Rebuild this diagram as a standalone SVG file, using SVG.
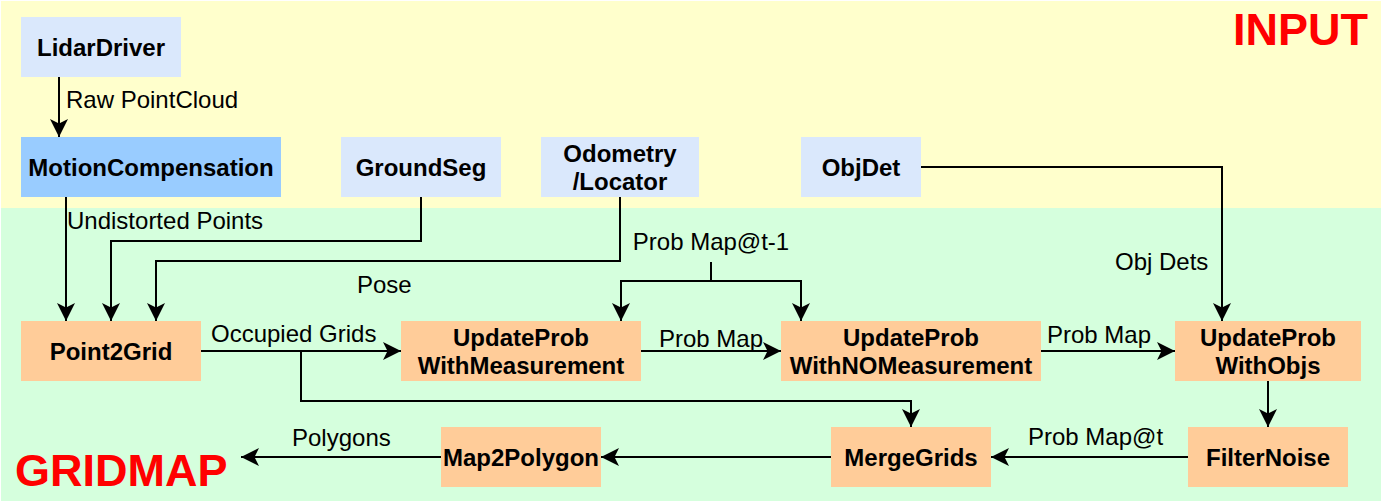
<svg xmlns="http://www.w3.org/2000/svg" width="1382" height="504" viewBox="0 0 1382 504">
<style>
.bg-in{fill:#FFFFCC}
.bg-gm{fill:#D5FFDD}
.src{fill:#DAE8FC}
.mc{fill:#99CCFF}
.proc{fill:#FFCC99}
.nt{font-family:"Liberation Sans",Arial,sans-serif;font-size:24px;font-weight:bold;fill:#000;text-anchor:middle}
.el{font-family:"Liberation Sans",Arial,sans-serif;font-size:24px;fill:#000}
.title{font-family:"Liberation Sans",Arial,sans-serif;font-size:45px;font-weight:bold;fill:#FF0000}
.edge{fill:none;stroke:#000;stroke-width:2;marker-end:url(#arr)}
.plain{fill:none;stroke:#000;stroke-width:2}
</style>
<defs>
<marker id="arr" viewBox="0 -10 19 20" markerUnits="userSpaceOnUse" markerWidth="19" markerHeight="20" refX="18" refY="0" orient="auto">
<path d="M0,-9 L18,0 L0,9 L4.5,0 Z" fill="#000"/>
</marker>
</defs>
<g id="backgrounds">
<rect class="bg-in" x="1" y="1" width="1380" height="207"/>
<rect class="bg-gm" x="1" y="208" width="1380" height="293"/>
<text class="title" x="1233" y="45">INPUT</text>
<text class="title" x="15" y="486">GRIDMAP</text>
</g>
<g id="connectors">
<path class="edge" d="M59,77 V137"/>
<text class="el" x="66" y="108">Raw PointCloud</text>
<path class="edge" d="M66,197 V321"/>
<text class="el" x="67" y="229">Undistorted Points</text>
<path class="edge" d="M421,197 V241 H111 V321"/>
<path class="edge" d="M620,197 V261 H156 V321"/>
<text class="el" x="357" y="293">Pose</text>
<text class="el" x="711" y="250" text-anchor="middle">Prob Map@t-1</text>
<path class="plain" d="M711,262 V281"/>
<path class="edge" d="M711,281 H621 V321"/>
<path class="edge" d="M711,281 H801 V321"/>
<path class="edge" d="M201,351 H401"/>
<text class="el" x="211" y="342">Occupied Grids</text>
<path class="edge" d="M301,351 V401 H911 V427"/>
<path class="edge" d="M641,351 H781"/>
<text class="el" x="659" y="347">Prob Map</text>
<path class="edge" d="M1041,351 H1175"/>
<text class="el" x="1047" y="343">Prob Map</text>
<path class="edge" d="M921,167 H1222 V321"/>
<text class="el" x="1115" y="270">Obj Dets</text>
<path class="edge" d="M1268,381 V427"/>
<path class="edge" d="M1188,457 H991"/>
<text class="el" x="1028" y="445">Prob Map@t</text>
<path class="edge" d="M831,457 H601"/>
<path class="edge" d="M441,457 H241"/>
<text class="el" x="292" y="446">Polygons</text>
</g>
<g id="n-lidardriver"><rect class="src" x="21" y="17" width="160" height="60"/><text class="nt" x="101" y="55.5">LidarDriver</text></g>
<g id="n-motioncomp"><rect class="mc" x="21" y="137" width="260" height="60"/><text class="nt" x="151" y="175.5">MotionCompensation</text></g>
<g id="n-groundseg"><rect class="src" x="341" y="137" width="160" height="60"/><text class="nt" x="421" y="175.5">GroundSeg</text></g>
<g id="n-odometry"><rect class="src" x="541" y="137" width="158" height="60"/><text class="nt" x="620" y="161.5">Odometry</text><text class="nt" x="620" y="189.5">/Locator</text></g>
<g id="n-objdet"><rect class="src" x="801" y="137" width="120" height="60"/><text class="nt" x="861" y="175.5">ObjDet</text></g>
<g id="n-point2grid"><rect class="proc" x="21" y="321" width="180" height="60"/><text class="nt" x="111" y="359.5">Point2Grid</text></g>
<g id="n-upwm"><rect class="proc" x="401" y="321" width="240" height="60"/><text class="nt" x="521" y="345.5">UpdateProb</text><text class="nt" x="521" y="373.5">WithMeasurement</text></g>
<g id="n-upwnm"><rect class="proc" x="781" y="321" width="260" height="60"/><text class="nt" x="911" y="345.5">UpdateProb</text><text class="nt" x="911" y="373.5">WithNOMeasurement</text></g>
<g id="n-upwo"><rect class="proc" x="1175" y="321" width="186" height="60"/><text class="nt" x="1268" y="345.5">UpdateProb</text><text class="nt" x="1268" y="373.5">WithObjs</text></g>
<g id="n-filternoise"><rect class="proc" x="1188" y="427" width="160" height="60"/><text class="nt" x="1268" y="465.5">FilterNoise</text></g>
<g id="n-mergegrids"><rect class="proc" x="831" y="427" width="160" height="60"/><text class="nt" x="911" y="465.5">MergeGrids</text></g>
<g id="n-map2polygon"><rect class="proc" x="441" y="427" width="160" height="60"/><text class="nt" x="521" y="465.5">Map2Polygon</text></g>
</svg>
